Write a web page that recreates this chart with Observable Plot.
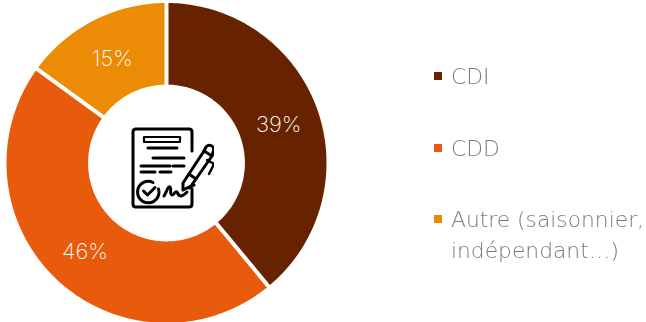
<!DOCTYPE html>
<html lang="fr">
<head>
<meta charset="utf-8">
<script src="https://cdn.jsdelivr.net/npm/d3@7"></script>
<script src="https://cdn.jsdelivr.net/npm/@observablehq/plot@0.6"></script>
<style>
  html, body { margin: 0; padding: 0; background: #fff; }
  #chart { position: relative; width: 646px; height: 322px; overflow: hidden; }
  #chart > svg.plot-root { position: absolute; left: 0; top: 0; }
  .legend { position: absolute; left: 0; top: 0; width: 646px; height: 322px; will-change: transform; font-family: "DejaVu Sans", sans-serif; font-weight: 200; font-size: 21.8px; line-height: 31px; color: #7a7a7a; }
  .legend div { position: absolute; left: 451px; white-space: nowrap; }
  .legend i { position: absolute; left: -17px; top: 11px; width: 8px; height: 8px; }
  .icon { position: absolute; left: 130px; top: 127px; }
</style>
</head>
<body>
<div id="chart"></div>
<script>
const categories = ["CDI", "CDD", "Autre (saisonnier,\nindépendant…)"];
const shares = [39, 46, 15];
const colors = ["#672300", "#E95B0C", "#EC8B06"];
const legendTops = [60.5, 132.5, 203.5];

const innerRadius = 0.49;
const labelRadius = 0.745;

// Slice angles, clockwise from twelve o'clock
const pie = d3.pie().sort(null).value(d => d.share);
const slices = pie(categories.map((name, i) => ({name, share: shares[i]})));

const polar = (r, a) => [r * Math.sin(a), r * Math.cos(a)];

// Outline of each ring segment, traced along both arcs
const outline = slices.flatMap(s => {
  const n = Math.ceil((s.endAngle - s.startAngle) * 60);
  const at = k => s.startAngle + (s.endAngle - s.startAngle) * k / n;
  const outer = d3.range(n + 1).map(k => polar(1, at(k)));
  const inner = d3.range(n, -1, -1).map(k => polar(innerRadius, at(k)));
  return [...outer, ...inner, outer[0]].map(([x, y]) => ({x, y, name: s.data.name}));
});

const separators = slices.map(s => {
  const [x1, y1] = polar(innerRadius - 0.02, s.startAngle);
  const [x2, y2] = polar(1.02, s.startAngle);
  return {x1, y1, x2, y2};
});

const labels = slices.map(s => {
  const [x, y] = polar(labelRadius, (s.startAngle + s.endAngle) / 2);
  return {x, y, text: `${s.data.share}%`};
});

const plot = Plot.plot({
  width: 646,
  height: 322,
  margin: 0,
  x: {domain: [-1, 1], range: [6, 326], axis: null},
  y: {domain: [-1, 1], range: [322.5, 2.5], axis: null},
  color: {domain: categories, range: colors},
  style: {background: "transparent"},
  marks: [
    Plot.line(outline, {x: "x", y: "y", z: "name", fill: "name", stroke: null, curve: "linear"}),
    Plot.link(separators, {x1: "x1", y1: "y1", x2: "x2", y2: "y2", stroke: "#fff", strokeWidth: 4}),
    Plot.text(labels, {x: "x", y: "y", text: "text", fill: "#fff", fontSize: 22, fontWeight: 200, fontFamily: "Inter, sans-serif", dy: 2.5})
  ]
});

const root = document.getElementById("chart");
root.appendChild(plot);

// Legend entries
const legend = d3.select(root).append("div").attr("class", "legend");
categories.forEach((name, i) => {
  const row = legend.append("div").style("top", `${legendTops[i]}px`);
  row.append("i").style("background", colors[i]);
  name.split("\n").forEach(line => row.append("span").style("display", "block").text(line));
});

// Contract-and-pen pictogram in the middle of the ring
root.insertAdjacentHTML("beforeend", `
<svg class="icon" width="84" height="84" viewBox="0 0 84 84" fill="none" stroke="#000" stroke-width="3" stroke-linecap="round" stroke-linejoin="round">
  <path d="M62 24 V5 Q62 2 59 2 H6 Q3 2 3 5 V77 Q3 80 6 80 H59 Q62 80 62 77 V62"/>
  <rect x="14" y="10" width="36" height="5" stroke-width="2.2"/>
  <path d="M18 21 H47 M23 31 H54 M11 39 H40 M43 39 H54 M11 45 H25 M30 45 H41"/>
  <path d="M28.5 62 A10.7 10.7 0 1 1 23 55.5"/>
  <path d="M13.5 64 L17.5 68 L25 60.5"/>
  <path d="M34 69 C37 64 38 59 40 60 C42 61 39 67 42 68 C44 68 45 64 47 65 C48 66 48 69 51 69 C53 69 55 67 57 65"/>
  <path d="M53 63 L53 56 L74 24 L82 29 L61 59 Z"/>
  <path d="M59 47 L66 52 M64 58 L59 61"/>
  <path d="M74 24 L76 20 Q78 17 82 19 Q85 22 83 25 L82 29"/>
  <path d="M77 33 L84 37 L79 47" stroke-width="2.4"/>
</svg>`);
</script>
</body>
</html>
